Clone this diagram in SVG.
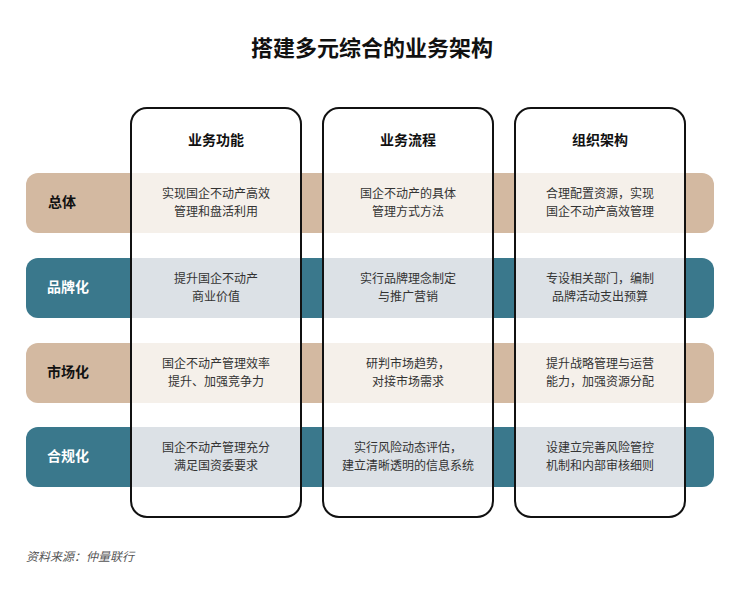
<svg xmlns="http://www.w3.org/2000/svg" width="744" height="590" viewBox="0 0 744 590">
<style>
text{font-family:"Noto Sans CJK SC","Noto Sans",sans-serif}
.t{font-size:22px;font-weight:bold;fill:#111}
.h{font-size:14px;font-weight:bold;fill:#111}
.l{font-size:14px;font-weight:bold}
.c{font-size:12px;fill:#333}
.tan{fill:#d3b9a1}.teal{fill:#3a788c}
.ltan{fill:#f5f0ea}.lteal{fill:#dce1e6}
.col{fill:#fff;stroke:#111;stroke-width:2}
</style>
<rect width="744" height="590" fill="#fff"/>
<text class="t" x="372" y="56" text-anchor="middle">搭建多元综合的业务架构</text>
<g id="bands">
<rect class="tan" x="26" y="173" width="688" height="60" rx="12"/>
<rect class="teal" x="26" y="258" width="688" height="60" rx="12"/>
<rect class="tan" x="26" y="343" width="688" height="60" rx="12"/>
<rect class="teal" x="26" y="427" width="688" height="60" rx="12"/>
<text class="l" x="62" y="207" fill="#111" text-anchor="middle">总体</text>
<text class="l" x="68" y="292" fill="#fff" text-anchor="middle">品牌化</text>
<text class="l" x="68" y="377" fill="#111" text-anchor="middle">市场化</text>
<text class="l" x="68" y="461" fill="#fff" text-anchor="middle">合规化</text>
</g>
<g id="col1">
<rect class="col" x="131" y="108" width="170" height="409" rx="16"/>
<rect class="ltan" x="132" y="173" width="168" height="60"/>
<rect class="lteal" x="132" y="258" width="168" height="60"/>
<rect class="ltan" x="132" y="343" width="168" height="60"/>
<rect class="lteal" x="132" y="427" width="168" height="60"/>
<g text-anchor="middle">
<text class="h" x="216" y="145">业务功能</text>
<text class="c" x="216" y="198">实现国企不动产高效</text><text class="c" x="216" y="216">管理和盘活利用</text>
<text class="c" x="216" y="283">提升国企不动产</text><text class="c" x="216" y="301">商业价值</text>
<text class="c" x="216" y="368">国企不动产管理效率</text><text class="c" x="216" y="386">提升、加强竞争力</text>
<text class="c" x="216" y="452">国企不动产管理充分</text><text class="c" x="216" y="470">满足国资委要求</text>
</g></g>
<g id="col2">
<rect class="col" x="323" y="108" width="170" height="409" rx="16"/>
<rect class="ltan" x="324" y="173" width="168" height="60"/>
<rect class="lteal" x="324" y="258" width="168" height="60"/>
<rect class="ltan" x="324" y="343" width="168" height="60"/>
<rect class="lteal" x="324" y="427" width="168" height="60"/>
<g text-anchor="middle">
<text class="h" x="408" y="145">业务流程</text>
<text class="c" x="408" y="198">国企不动产的具体</text><text class="c" x="408" y="216">管理方式方法</text>
<text class="c" x="408" y="283">实行品牌理念制定</text><text class="c" x="408" y="301">与推广营销</text>
<text class="c" x="408" y="368">研判市场趋势，</text><text class="c" x="408" y="386">对接市场需求</text>
<text class="c" x="408" y="452">实行风险动态评估，</text><text class="c" x="408" y="470">建立清晰透明的信息系统</text>
</g></g>
<g id="col3">
<rect class="col" x="515" y="108" width="170" height="409" rx="16"/>
<rect class="ltan" x="516" y="173" width="168" height="60"/>
<rect class="lteal" x="516" y="258" width="168" height="60"/>
<rect class="ltan" x="516" y="343" width="168" height="60"/>
<rect class="lteal" x="516" y="427" width="168" height="60"/>
<g text-anchor="middle">
<text class="h" x="600" y="145">组织架构</text>
<text class="c" x="600" y="198">合理配置资源，实现</text><text class="c" x="600" y="216">国企不动产高效管理</text>
<text class="c" x="600" y="283">专设相关部门，编制</text><text class="c" x="600" y="301">品牌活动支出预算</text>
<text class="c" x="600" y="368">提升战略管理与运营</text><text class="c" x="600" y="386">能力，加强资源分配</text>
<text class="c" x="600" y="452">设建立完善风险管控</text><text class="c" x="600" y="470">机制和内部审核细则</text>
</g></g>
<g id="connectors"/>
<text x="26" y="561" font-size="12" font-style="italic" fill="#555">资料来源：仲量联行</text>
</svg>
